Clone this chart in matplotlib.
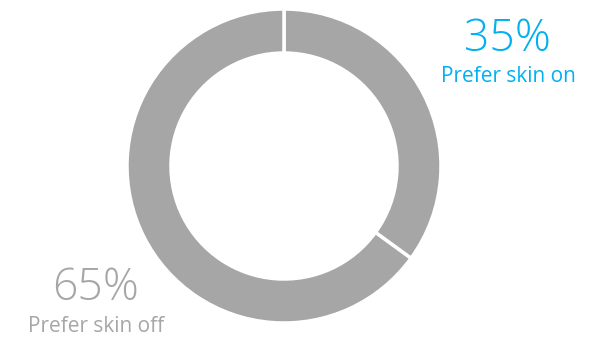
import matplotlib.pyplot as plt

# share of respondents
labels = ["Prefer skin on", "Prefer skin off"]
values = [35, 65]
pct_labels = ["35%", "65%"]
text_colors = ["#00B0F0", "#A6A6A6"]

W, H = 603, 341
fig = plt.figure(figsize=(W / 100, H / 100), dpi=100)
ax = fig.add_axes([0, 0, 1, 1])

# donut, drawn clockwise from 12 o'clock
ax.pie(values, colors=["#A6A6A6", "#A6A6A6"], startangle=90, counterclock=False,
       center=(284, H - 166), radius=157, frame=True,
       wedgeprops=dict(width=44, edgecolor="white", linewidth=2.5))
ax.set_xlim(0, W)
ax.set_ylim(0, H)
ax.set_aspect("equal")
ax.axis("off")

# labels
font = "Open Sans"
ax.text(507, H - 40, pct_labels[0], color=text_colors[0], fontsize=32,
        family=font, fontweight="light", ha="center", va="center")
ax.text(508, H - 77, labels[0], color=text_colors[0], fontsize=15,
        family=font, ha="center", va="center")
ax.text(96, H - 289, pct_labels[1], color=text_colors[1], fontsize=32,
        family=font, fontweight="light", ha="center", va="center")
ax.text(96, H - 326, labels[1], color=text_colors[1], fontsize=15,
        family=font, ha="center", va="center")

fig.savefig("out.png", dpi=100)
